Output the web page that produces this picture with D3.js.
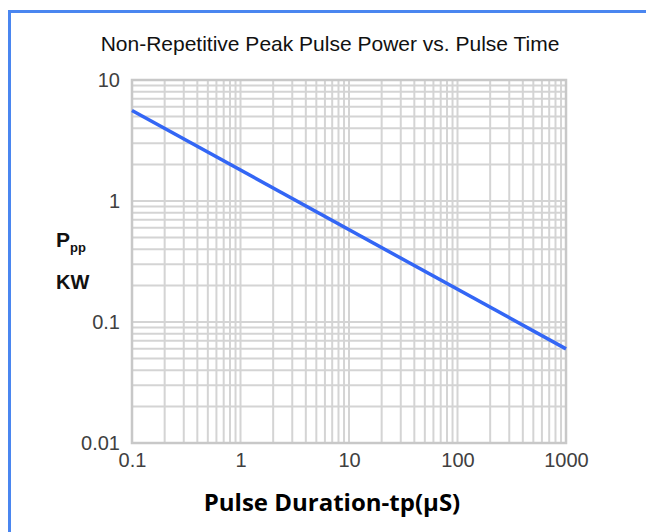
<!DOCTYPE html>
<html><head><meta charset="utf-8">
<script src="https://cdn.jsdelivr.net/npm/d3@7"></script>
<style>html,body{margin:0;padding:0;background:#fff;}svg{display:block;}</style>
</head><body>
<script>
// Data
const xTickValues = [0.1, 1, 10, 100, 1000];
const xTickLabels = ["0.1", "1", "10", "100", "1000"];
const yTickValues = [0.01, 0.1, 1, 10];
const yTickLabels = ["0.01", "0.1", "1", "10"];
const pulseDuration = [0.1, 1000];        // µS
const peakPower = [5.6, 0.06];            // KW

const W = 646, H = 532;
const m = {left: 132, right: 80, top: 80, bottom: 89};
const svg = d3.select("body").append("svg").attr("width", W).attr("height", H);

// blue frame
svg.append("rect").attr("x", 9.5).attr("y", 11.5).attr("width", 700).attr("height", 600)
  .attr("fill", "none").attr("stroke", "#4a86f0").attr("stroke-width", 3);

const x = d3.scaleLog().domain([0.1, 1000]).range([m.left, W - m.right]);
const y = d3.scaleLog().domain([0.01, 10]).range([H - m.bottom, m.top]);

// minor + major grid values
function gridVals(lo, hi) {
  const v = [];
  for (let d = lo; d < hi * 0.999; d *= 10) for (let k = 1; k < 10; k++) v.push(d * k);
  v.push(hi);
  return v;
}
const g = svg.append("g");
g.selectAll("line.vx").data(gridVals(0.1, 1000)).join("line")
  .attr("x1", d => x(d)).attr("x2", d => x(d))
  .attr("y1", y(10)).attr("y2", y(0.01))
  .attr("stroke", "#d4d4d4").attr("stroke-width", 2);
g.selectAll("line.hy").data(gridVals(0.01, 10)).join("line")
  .attr("y1", d => y(d)).attr("y2", d => y(d))
  .attr("x1", x(0.1)).attr("x2", x(1000))
  .attr("stroke", "#d4d4d4").attr("stroke-width", 2);
// plot frame
g.append("rect").attr("x", x(0.1)).attr("y", y(10))
  .attr("width", x(1000) - x(0.1)).attr("height", y(0.01) - y(10))
  .attr("fill", "none").attr("stroke", "#c8c8c8").attr("stroke-width", 2.5);

// axes
const xAxis = d3.axisBottom(x).tickValues(xTickValues)
  .tickFormat((d, i) => xTickLabels[i]).tickSize(0).tickPadding(10);
const yAxis = d3.axisLeft(y).tickValues(yTickValues)
  .tickFormat((d, i) => yTickLabels[i]).tickSize(0).tickPadding(12);
const gx = svg.append("g").attr("transform", `translate(0,${y(0.01)})`).call(xAxis);
const gy = svg.append("g").attr("transform", `translate(${x(0.1)},0)`).call(yAxis);
[gx, gy].forEach(a => {
  a.select(".domain").remove();
  a.selectAll("text").attr("font-family", "Liberation Sans, Arial, sans-serif")
    .attr("font-size", 20).attr("fill", "#404040");
});

// data line
svg.append("path")
  .datum(pulseDuration.map((d, i) => [d, peakPower[i]]))
  .attr("fill", "none").attr("stroke", "#3366f5").attr("stroke-width", 3.5)
  .attr("d", d3.line().x(d => x(d[0])).y(d => y(d[1])));

// title
svg.append("text").attr("x", 330).attr("y", 51).attr("text-anchor", "middle")
  .attr("font-family", "Liberation Sans, Arial, sans-serif").attr("font-size", 21)
  .attr("fill", "#111").text("Non-Repetitive Peak Pulse Power vs. Pulse Time");

// y label
const yl = svg.append("text").attr("x", 56).attr("y", 247)
  .attr("font-family", "Liberation Sans, Arial, sans-serif").attr("font-weight", "bold")
  .attr("font-size", 21).attr("fill", "#111");
yl.append("tspan").text("P");
yl.append("tspan").attr("dy", 5).attr("font-size", 13).text("pp");
svg.append("text").attr("x", 56).attr("y", 289)
  .attr("font-family", "Liberation Sans, Arial, sans-serif").attr("font-weight", "bold")
  .attr("font-size", 20).attr("fill", "#111").text("KW");

// x label
svg.append("text").attr("x", 332).attr("y", 511).attr("text-anchor", "middle")
  .attr("font-family", "Open Sans, sans-serif").attr("font-weight", "bold")
  .attr("font-size", 24).attr("fill", "#000").text("Pulse Duration-tp(μS)");
</script>
</body></html>
